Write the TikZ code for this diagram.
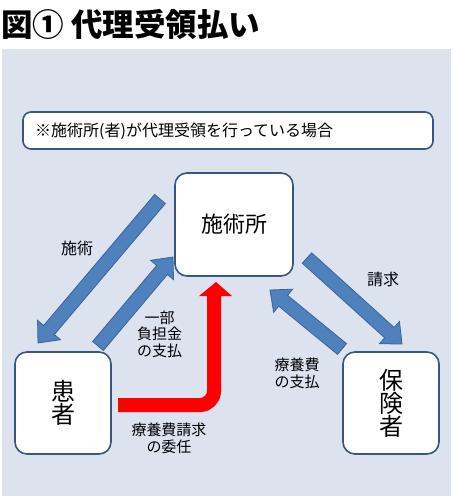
\documentclass[tikz,border=0pt]{standalone}
\usepackage{fontspec}
\setmainfont{Noto Sans CJK JP}
\usetikzlibrary{calc}
\definecolor{bgblue}{HTML}{DCE3EF}
\definecolor{boxedge}{HTML}{3A5680}
\definecolor{arrowblue}{HTML}{4F81BD}
\definecolor{arrowedge}{HTML}{3B6398}
\definecolor{redarrow}{HTML}{FF0000}
\tikzset{
  bluearrow/.style={fill=arrowblue, draw=arrowedge, line width=0.8pt, line join=miter},
  box/.style={draw=boxedge, fill=white, line width=1.6pt, rounded corners=12pt, inner sep=0pt},
  lbl/.style={font=\fontsize{15}{16.5}\selectfont, align=center, text=black, inner sep=0pt},
}
\newcommand\blockarrow[5]{%
  \coordinate (hb) at ($(#2)!#5!(#1)$);
  \path[bluearrow] ($(#1)!#3!90:(#2)$) -- ($(hb)!#3!90:(#2)$) -- ($(hb)!#4!90:(#2)$)
    -- (#2) -- ($(hb)!#4!-90:(#2)$) -- ($(hb)!#3!-90:(#2)$) -- ($(#1)!#3!-90:(#2)$) -- cycle;
}
\begin{document}
\begin{tikzpicture}[x=1pt,y=-1pt]
\useasboundingbox (0,0) rectangle (454,499);
\fill[white] (0,0) rectangle (454,499);
\fill[bgblue] (2,49) rectangle (451,496);
% title
\node[anchor=west, inner sep=0pt, font=\fontsize{31.5}{31.5}\selectfont\bfseries] (title) at (1,24) {図① 代理受領払い};
% note
\node[draw=boxedge, fill=white, line width=1.6pt, rounded corners=8pt, minimum width=410pt, minimum height=37pt, inner sep=0pt] (note) at (228,130.5) {};
\node[anchor=west, inner sep=0pt, font=\fontsize{16}{16}\selectfont] (notetext) at (35,131) {※施術所(者)が代理受領を行っている場合};
% boxes
\node[box, minimum width=118pt, minimum height=103pt, font=\fontsize{22}{22}\selectfont] (sejutsu) at (234,224.5) {施術所};
\node[box, minimum width=96pt, minimum height=102pt, align=center, font=\fontsize{24}{23}\selectfont] (kanja) at (63,403) {患\\者};
\node[box, minimum width=96pt, minimum height=102pt, align=center, font=\fontsize{24}{23}\selectfont] (hokensha) at (391,403) {保\\険\\者};
% blue arrows
\coordinate (a1s) at (160,199); \coordinate (a1e) at (38,343);
\coordinate (a2s) at (98,346);  \coordinate (a2e) at (173,257);
\coordinate (a3s) at (307,258); \coordinate (a3e) at (402,344);
\coordinate (a4s) at (342,349); \coordinate (a4e) at (270,290);
\blockarrow{a1s}{a1e}{7pt}{15pt}{17pt}
\blockarrow{a2s}{a2e}{7pt}{15pt}{17pt}
\blockarrow{a3s}{a3e}{7pt}{15pt}{17pt}
\blockarrow{a4s}{a4e}{7pt}{15pt}{17pt}
% red arrow
\coordinate (r0) at (118,405);
\coordinate (r1) at (214,405);
\coordinate (r2) at (214,294);
\coordinate (rt) at (216,282);
\draw[redarrow, line width=14pt, rounded corners=14pt] (r0) -- (r1) -- (r2);
\fill[redarrow] ($(r2)+(-15,2)$) -- (rt) -- ($(r2)+(18,2)$) -- cycle;
% labels
\node[lbl, font=\fontsize{16}{16}\selectfont] (l1) at (77,248) {施術};
\node[lbl] (l2) at (159.5,334) {一部\\負担金\\の支払};
\node[lbl, font=\fontsize{16}{16}\selectfont] (l3) at (383,279) {請求};
\node[lbl] (l4) at (297,373.5) {療養費\\の支払};
\node[lbl] (l5) at (169,438.5) {療養費請求\\の委任};
\end{tikzpicture}
\end{document}
